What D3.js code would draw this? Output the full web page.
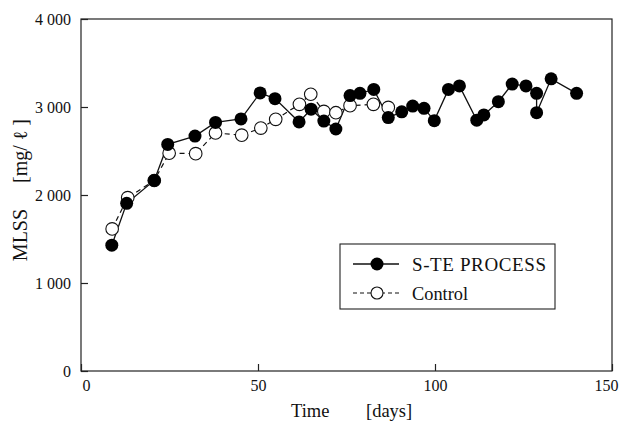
<!DOCTYPE html>
<html>
<head>
<meta charset="utf-8">
<script src="https://cdn.jsdelivr.net/npm/d3@7"></script>
<style>
  body { margin: 0; background: #fff; }
  svg text { font-family: "Liberation Serif", "DejaVu Serif", serif; fill: #111; }
</style>
</head>
<body>
<div id="chart"></div>
<script>
// S-TE PROCESS (filled circles)
const steDays = [8.7, 12.9, 20.7, 24.5, 32.2, 38.0, 45.2, 50.6, 54.8, 61.6, 65.0, 68.6, 72.0, 76.0, 78.8, 82.7,
  86.8, 90.6, 93.7, 96.9, 99.8, 103.8, 106.9, 111.8, 113.8, 117.9, 121.8, 125.7, 128.7, 128.7, 132.8, 140.0];
const steValues = [1430, 1905, 2165, 2575, 2670, 2825, 2865, 3160, 3095, 2830, 2975, 2840, 2750, 3130, 3155, 3200,
  2880, 2945, 3010, 2985, 2845, 3200, 3240, 2850, 2910, 3060, 3260, 3240, 3155, 2935, 3320, 3155];

// Control (open circles)
const ctrlDays = [8.8, 13.2, 20.7, 24.9, 32.4, 38.0, 45.4, 50.8, 55.0, 61.7, 64.9, 68.6, 72.0, 76.0, 82.6, 86.8];
const ctrlValues = [1615, 1970, 2165, 2475, 2470, 2705, 2680, 2760, 2860, 3030, 3145, 2950, 2935, 3015, 3030, 2995];

const xTicks = [0, 50, 100, 150];
const yTicks = [0, 1000, 2000, 3000, 4000];
const yTickLabels = ["0", "1 000", "2 000", "3 000", "4 000"];

const width = 624, height = 424;
const margin = { left: 81, right: 12, top: 19, bottom: 53 };

const svg = d3.select("#chart").append("svg")
  .attr("width", width)
  .attr("height", height);

const x = d3.scaleLinear().domain([0, 150]).range([margin.left, width - margin.right]);
const y = d3.scaleLinear().domain([0, 4000]).range([height - margin.bottom, margin.top]);

// frame
svg.append("rect")
  .attr("x", x(0)).attr("y", y(4000))
  .attr("width", x(150) - x(0)).attr("height", y(0) - y(4000))
  .attr("fill", "none").attr("stroke", "#222").attr("stroke-width", 1.2);

// axes, ticks pointing inside
const xAxis = svg.append("g")
  .attr("transform", `translate(0,${y(0)})`)
  .call(d3.axisBottom(x).tickValues(xTicks).tickSizeInner(-7).tickSizeOuter(0).tickPadding(9));
xAxis.select(".domain").remove();
xAxis.selectAll("text").attr("font-size", 16);
xAxis.selectAll(".tick").filter(d => d === 0).select("text").attr("dx", 5);
xAxis.selectAll(".tick").filter(d => d === 150).select("text").attr("dx", -6);

const yAxis = svg.append("g")
  .attr("transform", `translate(${x(0)},0)`)
  .call(d3.axisLeft(y).tickValues(yTicks).tickFormat((d, i) => yTickLabels[i]).tickSizeInner(-7).tickSizeOuter(0).tickPadding(10));
yAxis.select(".domain").remove();
yAxis.selectAll("text").attr("font-size", 16);
svg.selectAll(".tick line").attr("stroke", "#222").attr("stroke-width", 1.2);

// axis titles
svg.append("text").attr("x", 291).attr("y", 417).attr("font-size", 18.5).text("Time");
svg.append("text").attr("x", 366).attr("y", 417).attr("font-size", 18.5).text("[days]");
svg.append("text").attr("transform", "translate(27,235) rotate(-90)")
  .attr("text-anchor", "middle").attr("font-size", 20).text("MLSS");
svg.append("text").attr("transform", "translate(27,151) rotate(-90)")
  .attr("text-anchor", "middle").attr("font-size", 20).text("[mg/ ℓ ]");

const steData = steDays.map((d, i) => [d, steValues[i]]);
const ctrlData = ctrlDays.map((d, i) => [d, ctrlValues[i]]);
const line = d3.line().x(d => x(d[0])).y(d => y(d[1]));

// control first (dashed, open)
svg.append("path").datum(ctrlData).attr("d", line)
  .attr("fill", "none").attr("stroke", "#111").attr("stroke-width", 1.2).attr("stroke-dasharray", "5,4");
svg.append("path").datum(steData).attr("d", line)
  .attr("fill", "none").attr("stroke", "#111").attr("stroke-width", 1.3);

svg.selectAll(".ctrl").data(ctrlData).join("circle")
  .attr("cx", d => x(d[0])).attr("cy", d => y(d[1])).attr("r", 6.3)
  .attr("fill", "#fff").attr("stroke", "#111").attr("stroke-width", 1.1);
svg.selectAll(".ste").data(steData).join("circle")
  .attr("cx", d => x(d[0])).attr("cy", d => y(d[1])).attr("r", 6.5)
  .attr("fill", "#000");

// legend
const lg = svg.append("g");
lg.append("rect").attr("x", 340).attr("y", 244).attr("width", 215).attr("height", 65)
  .attr("fill", "#fff").attr("stroke", "#222").attr("stroke-width", 1.1);
lg.append("line").attr("x1", 353).attr("x2", 399).attr("y1", 264).attr("y2", 264)
  .attr("stroke", "#111").attr("stroke-width", 1.3);
lg.append("circle").attr("cx", 377).attr("cy", 264).attr("r", 6.5).attr("fill", "#000");
lg.append("text").attr("x", 412).attr("y", 270.5).attr("font-size", 19)
  .attr("textLength", 134).attr("lengthAdjust", "spacing").text("S-TE PROCESS");
lg.append("line").attr("x1", 353).attr("x2", 399).attr("y1", 293).attr("y2", 293)
  .attr("stroke", "#111").attr("stroke-width", 1.1).attr("stroke-dasharray", "4,3");
lg.append("circle").attr("cx", 377).attr("cy", 293).attr("r", 6).attr("fill", "#fff")
  .attr("stroke", "#111").attr("stroke-width", 1.1);
lg.append("text").attr("x", 412).attr("y", 299.5).attr("font-size", 19)
  .attr("textLength", 56).attr("lengthAdjust", "spacingAndGlyphs").text("Control");
</script>
</body>
</html>
